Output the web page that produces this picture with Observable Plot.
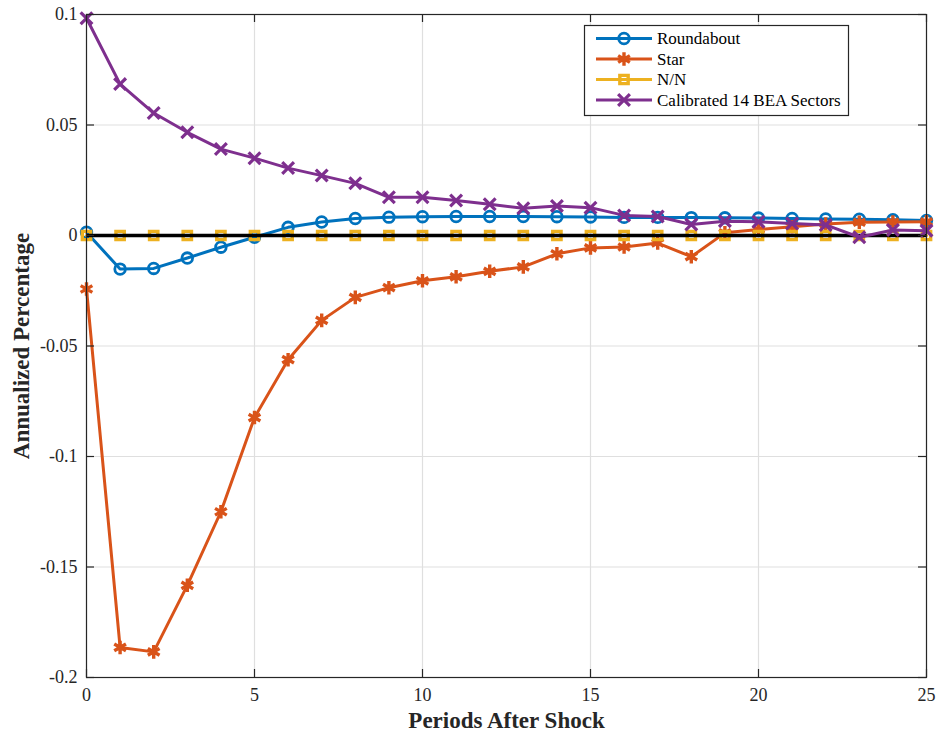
<!DOCTYPE html>
<html>
<head>
<meta charset="utf-8">
<script src="https://cdn.jsdelivr.net/npm/d3@7"></script>
<script src="https://cdn.jsdelivr.net/npm/@observablehq/plot@0.6"></script>
<style>
  html, body { margin: 0; padding: 0; background: #fff; }
  #chart svg { display: block; }
</style>
</head>
<body>
<div id="chart"></div>
<script>
// ---- Data ----
const periods = [0, 1, 2, 3, 4, 5, 6, 7, 8, 9, 10, 11, 12, 13, 14, 15, 16, 17, 18, 19, 20, 21, 22, 23, 24, 25];
const roundabout = [0.0015, -0.0152, -0.0149, -0.0102, -0.0053, -0.0008, 0.0037, 0.0061, 0.0077, 0.0083, 0.0085, 0.0086, 0.0086, 0.0086, 0.0085, 0.0084, 0.0082, 0.0082, 0.0081, 0.0080, 0.0079, 0.0077, 0.0075, 0.0074, 0.0071, 0.0068];
const star = [-0.0242, -0.1864, -0.1884, -0.1583, -0.1250, -0.0824, -0.0562, -0.0384, -0.0280, -0.0236, -0.0205, -0.0187, -0.0162, -0.0142, -0.0083, -0.0056, -0.0052, -0.0034, -0.0096, 0.0012, 0.0027, 0.0040, 0.0052, 0.0060, 0.0061, 0.0062];
const nn = [0, 0, 0, 0, 0, 0, 0, 0, 0, 0, 0, 0, 0, 0, 0, 0, 0, 0, 0, 0, 0, 0, 0, 0, 0, 0];
const calibrated = [0.0983, 0.0685, 0.0554, 0.0467, 0.0391, 0.0350, 0.0305, 0.0271, 0.0236, 0.0173, 0.0173, 0.0158, 0.0141, 0.0123, 0.0134, 0.0126, 0.0091, 0.0086, 0.0050, 0.0065, 0.0062, 0.0054, 0.0048, -0.0008, 0.0025, 0.0022];

const seriesNames = ["Roundabout", "Star", "N/N", "Calibrated 14 BEA Sectors"];
const seriesValues = [roundabout, star, nn, calibrated];
const seriesColors = ["#0072BD", "#D95319", "#EDB120", "#7E2F8E"];
const seriesSymbols = ["circle", "asterisk", "square", "times"];

const xTicks = [0, 5, 10, 15, 20, 25];
const xTickLabels = ["0", "5", "10", "15", "20", "25"];
const yTicks = [-0.2, -0.15, -0.1, -0.05, 0, 0.05, 0.1];
const yTickLabels = ["-0.2", "-0.15", "-0.1", "-0.05", "0", "0.05", "0.1"];
const xLabel = "Periods After Shock";
const yLabel = "Annualized Percentage";

// ---- Layout ----
const W = 940, H = 740;
const mL = 86, mR = 14, mT = 14, mB = 63;
const innerW = W - mL - mR, innerH = H - mT - mB;
const tickLen = 8;
const axisColor = "#262626";
const fontFamily = "'Liberation Serif', 'Times New Roman', Times, serif";
const symbolR = { circle: 5.3, asterisk: 6.4, square: 4.7, times: 5.4 };
const symbolW = { circle: 2.8, asterisk: 3.4, square: 3.4, times: 3.2 };

const seriesRows = seriesNames.map((name, s) =>
  periods.map((p, i) => ({ period: p, value: seriesValues[s][i], series: name }))
);

function seriesMarks(s) {
  const sym = seriesSymbols[s];
  return [
    Plot.line(seriesRows[s], { x: "period", y: "value", stroke: seriesColors[s], strokeWidth: 3, strokeLinejoin: "round" }),
    Plot.dot(seriesRows[s], { x: "period", y: "value", symbol: () => sym, r: symbolR[sym], stroke: seriesColors[s], strokeWidth: symbolW[sym], fill: "none" })
  ];
}

const chart = Plot.plot({
  width: W, height: H,
  marginLeft: mL, marginRight: mR, marginTop: mT, marginBottom: mB,
  style: { fontFamily, fontSize: "18px", background: "#fff", color: axisColor, overflow: "visible" },
  x: { domain: [0, 25] },
  y: { domain: [-0.2, 0.1] },
  symbol: { type: "identity" },
  marks: [
    Plot.gridX(xTicks, { stroke: "#dfdfdf", strokeOpacity: 1, strokeWidth: 1.2 }),
    Plot.gridY(yTicks, { stroke: "#dfdfdf", strokeOpacity: 1, strokeWidth: 1.2 }),
    ...seriesMarks(0),
    ...seriesMarks(1),
    ...seriesMarks(2),
    Plot.ruleY([0], { stroke: "#000", strokeWidth: 3.5 }),
    ...seriesMarks(3),
    Plot.frame({ stroke: axisColor, strokeWidth: 1.2 }),
    // inward ticks on all four sides
    Plot.ruleY(yTicks, { stroke: axisColor, strokeWidth: 1.2, insetRight: innerW - tickLen }),
    Plot.ruleY(yTicks, { stroke: axisColor, strokeWidth: 1.2, insetLeft: innerW - tickLen }),
    Plot.ruleX(xTicks, { stroke: axisColor, strokeWidth: 1.2, insetTop: innerH - tickLen }),
    Plot.ruleX(xTicks, { stroke: axisColor, strokeWidth: 1.2, insetBottom: innerH - tickLen }),
    Plot.axisX({ ticks: xTicks, tickSize: 0, tickPadding: 11, tickFormat: d => xTickLabels[xTicks.indexOf(d)], label: null, fontSize: 18 }),
    Plot.axisY({ ticks: yTicks, tickSize: 0, tickPadding: 9, tickFormat: d => yTickLabels[yTicks.indexOf(d)], label: null, fontSize: 18 }),
    Plot.text([xLabel], { text: d => d, frameAnchor: "bottom", lineAnchor: "middle", textAnchor: "middle", dy: 43, fontWeight: "bold", fontSize: 23, fill: axisColor }),
    Plot.text([yLabel], { text: d => d, frameAnchor: "left", lineAnchor: "middle", textAnchor: "middle", dx: -65, rotate: -90, fontWeight: "bold", fontSize: 23, fill: axisColor })
  ]
});

document.getElementById("chart").appendChild(chart);

// ---- Legend (inside the axes, top right) ----
const svg = d3.select(chart);
const legBox = { x: 584, y: 25, w: 264, h: 90 };
const rowY0 = 38.5, rowStep = 20.5;
const lg = svg.append("g").attr("class", "legend").attr("text-anchor", "start");
lg.append("rect")
  .attr("x", legBox.x + 0.5).attr("y", legBox.y + 0.5)
  .attr("width", legBox.w).attr("height", legBox.h)
  .attr("fill", "#fff").attr("stroke", axisColor).attr("stroke-width", 1.2);
const d3Sym = { circle: d3.symbolCircle, asterisk: d3.symbolAsterisk, square: d3.symbolSquare, times: d3.symbolTimes };
seriesNames.forEach((name, s) => {
  const y = rowY0 + s * rowStep;
  const sym = seriesSymbols[s];
  lg.append("line")
    .attr("x1", legBox.x + 12).attr("x2", legBox.x + 68)
    .attr("y1", y).attr("y2", y)
    .attr("stroke", seriesColors[s]).attr("stroke-width", 3);
  const r = symbolR[sym];
  lg.append("path")
    .attr("transform", `translate(${legBox.x + 40},${y})`)
    .attr("d", d3.symbol(d3Sym[sym], r * r * Math.PI)())
    .attr("fill", "none").attr("stroke", seriesColors[s]).attr("stroke-width", symbolW[sym]);
  lg.append("text")
    .attr("x", legBox.x + 73).attr("y", y)
    .attr("dy", "0.35em")
    .attr("text-anchor", "start")
    .attr("font-family", fontFamily).attr("font-size", 17)
    .attr("fill", "#000")
    .text(name);
});
</script>
</body>
</html>
